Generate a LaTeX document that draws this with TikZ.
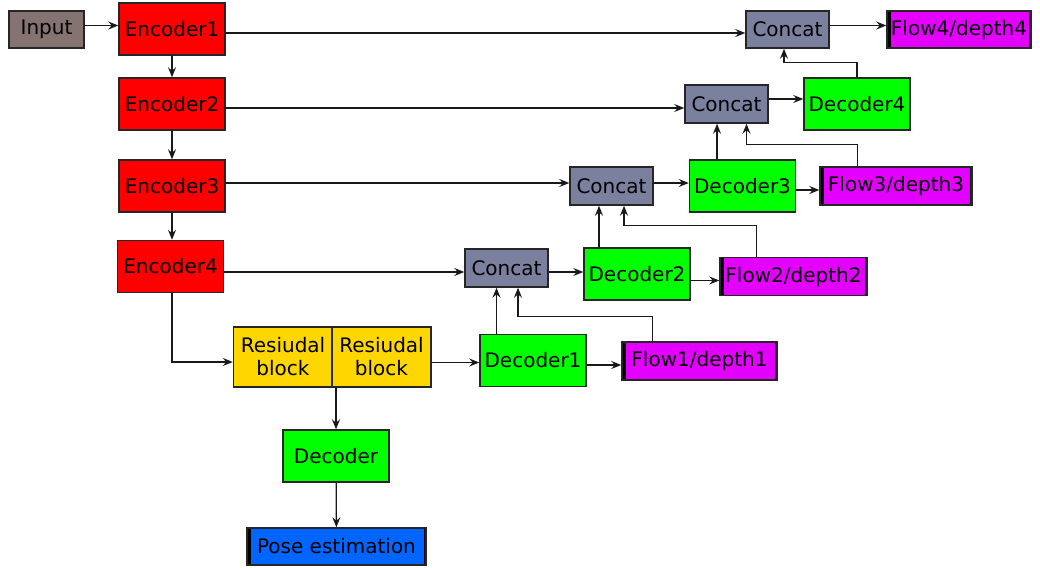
\documentclass[tikz,border=0pt]{standalone}
\usepackage{fontspec}
\setmainfont{DejaVu Sans}
\usepackage{tikz}
\usetikzlibrary{positioning,arrows.meta,calc}
\definecolor{inputgray}{RGB}{133,115,113}
\definecolor{encred}{RGB}{255,0,0}
\definecolor{decgreen}{RGB}{0,255,0}
\definecolor{catgray}{RGB}{122,128,158}
\definecolor{flowmag}{RGB}{228,0,255}
\definecolor{resgold}{RGB}{255,215,0}
\definecolor{poseblue}{RGB}{0,102,255}
\tikzset{
  box/.style={draw=black!85, line width=1.5pt, inner sep=0pt, align=center,
    font=\fontsize{20}{23}\selectfont},
  sidebars/.style={path picture={
    \draw[black, line width=7pt] (path picture bounding box.north west) -- (path picture bounding box.south west);
    \draw[black, line width=5pt] (path picture bounding box.north east) -- (path picture bounding box.south east);}},
  inbox/.style={box, fill=inputgray, minimum width=75pt, minimum height=37pt},
  encbox/.style={box, fill=encred, minimum width=106pt, minimum height=52pt},
  decbox/.style={box, fill=decgreen, minimum width=106pt, minimum height=52pt},
  catbox/.style={box, fill=catgray, minimum width=83pt, minimum height=38pt},
  resbox/.style={box, fill=resgold, minimum width=99pt, minimum height=60pt},
  flowbox/.style={box, sidebars, fill=flowmag, minimum height=38pt},
  posebox/.style={box, sidebars, fill=poseblue, minimum width=179pt, minimum height=37pt},
  link/.style={->, line width=1.3pt, black!90}
}

\begin{document}
\begin{tikzpicture}[x=1pt, y=-1pt, >={Stealth[length=10pt,width=8pt,inset=3.5pt]}]
  \useasboundingbox (0,0) rectangle (1040,567);
  \node[inbox] (inp) at (46.5,29.5) {Input};
  \node[encbox] (enc1) at (172,29) {Encoder1};
  \node[encbox] (enc2) at (172,104) {Encoder2};
  \node[encbox] (enc3) at (172,186) {Encoder3};
  \node[encbox] (enc4) at (170.5,266.5) {Encoder4};
  \node[resbox] (res1) at (283,357) {Resiudal\\block};
  \node[resbox] (res2) at (381.5,357) {Resiudal\\block};
  \node[decbox] (dec) at (336,456) {Decoder};
  \node[posebox] (pose) at (336.5,546.5) {Pose estimation};
  \node[decbox] (dec1) at (533,360.5) {Decoder1};
  \node[flowbox, minimum width=155pt] (flow1) at (699.5,361) {Flow1/depth1};
  \node[catbox] (cat1) at (506.5,268) {Concat};
  \node[decbox] (dec2) at (637,274) {Decoder2};
  \node[flowbox, minimum width=147pt] (flow2) at (793.5,276.5) {Flow2/depth2};
  \node[catbox] (cat2) at (611.5,186) {Concat};
  \node[decbox] (dec3) at (742.5,186) {Decoder3};
  \node[flowbox, minimum width=152pt] (flow3) at (896,186) {Flow3/depth3};
  \node[catbox] (cat3) at (726.5,104) {Concat};
  \node[decbox] (dec4) at (857,104) {Decoder4};
  \node[catbox, minimum height=37pt] (cat4) at (787.5,29.5) {Concat};
  \node[flowbox, minimum width=144pt, minimum height=37pt] (flow4) at (959,29.5) {Flow4/depth4};

  \coordinate (c1a) at ($(cat1.south)+(-10,0)$);
  \coordinate (c1b) at ($(cat1.south)+(11.5,0)$);
  \coordinate (c2a) at ($(cat2.south)+(-12.5,0)$);
  \coordinate (c2b) at ($(cat2.south)+(12.5,0)$);
  \coordinate (c3a) at ($(cat3.south)+(-9.5,0)$);
  \coordinate (c3b) at ($(cat3.south)+(20,0)$);
  \coordinate (c4) at ($(cat4.south)+(-3.5,0)$);
  \coordinate (f1) at ($(flow1.north west)+(31,0)$);
  \coordinate (f2) at ($(flow2.north west)+(37,0)$);
  \coordinate (f3) at ($(flow3.north west)+(38,0)$);

  \draw[link] ([yshift=4pt]inp.east) -- ([yshift=4pt]inp.east -| enc1.west);
  \draw[link] (enc1) -- (enc2);
  \draw[link] (enc2) -- (enc3);
  \draw[link] (enc3.south) -- (enc3.south |- enc4.north);
  \draw[link] (enc4.south -| enc3.south) |- ([yshift=-5pt]res1.west);
  \draw[link] ([yshift=-4pt]enc1.east) -- ([yshift=-4pt]enc1.east -| cat4.west);
  \draw[link] ([yshift=-4pt]enc2.east) -- ([yshift=-4pt]enc2.east -| cat3.west);
  \draw[link] ([yshift=3pt]enc3.east) -- ([yshift=3pt]enc3.east -| cat2.west);
  \draw[link] ([yshift=-4pt]cat1.west -| enc4.east) -- ([yshift=-4pt]cat1.west);
  \draw[link] ([yshift=-2pt]dec1.west -| res2.east) -- ([yshift=-2pt]dec1.west);
  \draw[link] (dec.north |- res2.south) -- (dec.north);
  \draw[link] (dec) -- (pose);
  \draw[link] ([yshift=-4pt]flow1.west -| dec1.east) -- ([yshift=-4pt]flow1.west);
  \draw[link] (c1a |- dec1.north) -- (c1a);
  \draw[link] (f1) -- ++(0,-25) -| (c1b);
  \draw[link] ([yshift=-4pt]cat1.east) -- ([yshift=-4pt]cat1.east -| dec2.west);
  \draw[link] ([yshift=-4pt]flow2.west -| dec2.east) -- ([yshift=-4pt]flow2.west);
  \draw[link] (c2a |- dec2.north) -- (c2a);
  \draw[link] (f2) -- ++(0,-31) -| (c2b);
  \draw[link] ([yshift=3pt]cat2.east) -- ([yshift=3pt]cat2.east -| dec3.west);
  \draw[link] ([yshift=-4pt]dec3.east) -- ([yshift=-4pt]dec3.east -| flow3.west);
  \draw[link] (c3a |- dec3.north) -- (c3a);
  \draw[link] (f3) -- ++(0,-22) -| (c3b);
  \draw[link] ([yshift=5pt]cat3.east) -- ([yshift=5pt]cat3.east -| dec4.west);
  \draw[link] (dec4.north) -- ++(0,-15) -| (c4);
  \draw[link] ([yshift=4pt]cat4.east) -- ([yshift=4pt]cat4.east -| flow4.west);
\end{tikzpicture}
\end{document}
